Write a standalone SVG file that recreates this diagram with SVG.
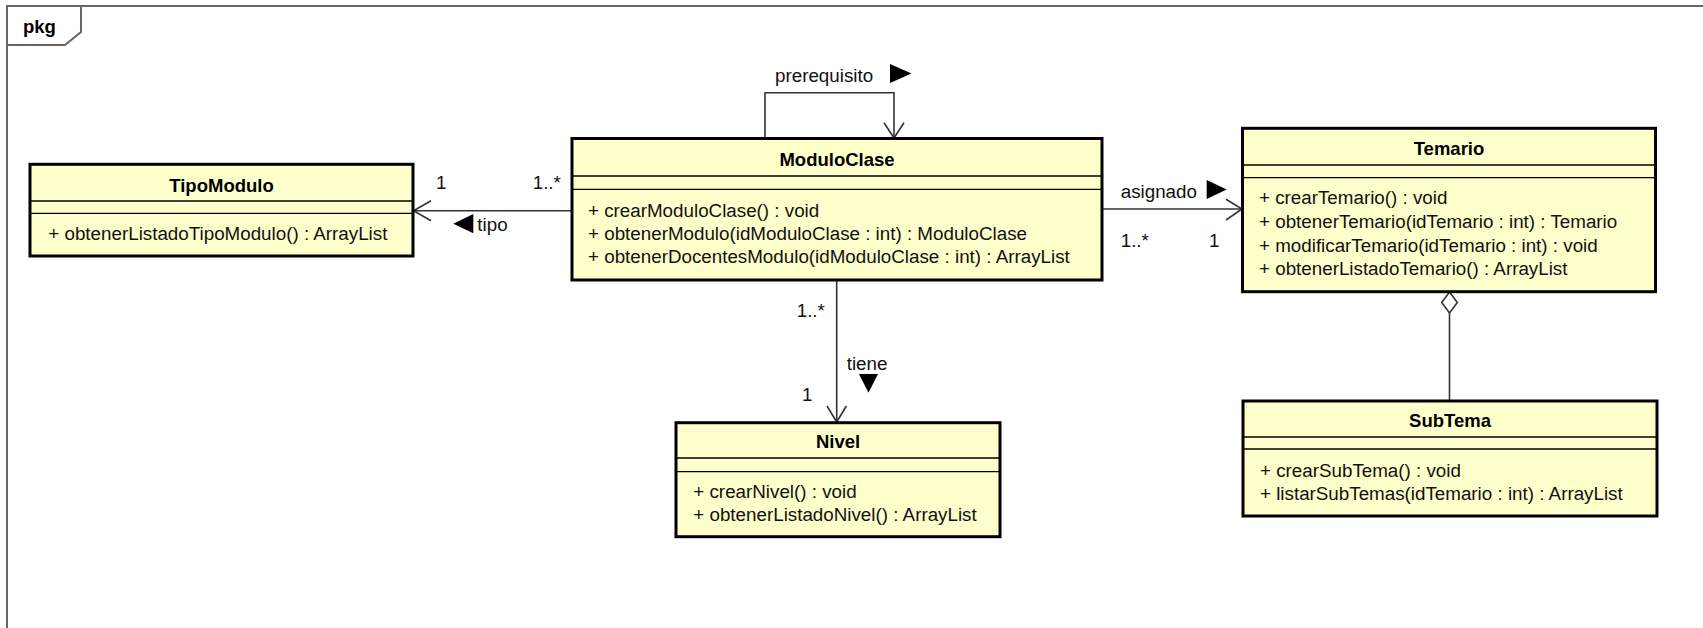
<svg xmlns="http://www.w3.org/2000/svg" width="1703" height="628" viewBox="0 0 1703 628">
<style>
.box{fill:#FFFFCC;stroke:#000;stroke-width:3}
.sep{stroke:#000;stroke-width:1.3}
.title{font-family:'Liberation Sans',Arial,sans-serif;font-size:18.5px;font-weight:bold;fill:#000;text-anchor:middle}
.m{font-family:'Liberation Sans',Arial,sans-serif;font-size:18.8px;fill:#111}
.lbl{font-family:'Liberation Sans',Arial,sans-serif;font-size:18.8px;fill:#111}
.ln{fill:none;stroke:#333;stroke-width:1.6}
.tri{fill:#000}
.frame{fill:none;stroke:#666;stroke-width:2}
</style>
<rect x="0" y="0" width="1703" height="628" fill="#fff"/>
<g id="frame">
<path class="frame" d="M7,628 V6 H1703"/>
<path class="frame" d="M7,45 H65 L81,32 V6"/>
<text x="23" y="33" font-family="'Liberation Sans',Arial,sans-serif" font-size="18.5" font-weight="bold" fill="#000">pkg</text>
</g>
<g id="connectors">
<g id="c-tipo">
<line class="ln" x1="572" y1="210.7" x2="413" y2="210.7"/>
<polyline class="ln" points="431,200.7 413.5,210.7 431,220.7"/>
<text class="lbl" x="436" y="189">1</text>
<text class="lbl" x="532.7" y="189">1..*</text>
<polygon class="tri" points="473.3,214 453.3,223.7 473.3,233.3"/>
<text class="lbl" x="477.3" y="231">tipo</text>
</g>
<g id="c-prerequisito">
<polyline class="ln" points="765,138 765,92.7 894,92.7 894,138"/>
<polyline class="ln" points="884,122.7 894,138 904,122.7"/>
<text class="lbl" x="775" y="81.7">prerequisito</text>
<polygon class="tri" points="890,64 911.5,73.5 890,83"/>
</g>
<g id="c-asignado">
<line class="ln" x1="1102" y1="209" x2="1242" y2="209"/>
<polyline class="ln" points="1226,199.3 1242,209 1226,220"/>
<text class="lbl" x="1120.7" y="198">asignado</text>
<polygon class="tri" points="1206.7,180 1226.7,189.5 1206.7,199"/>
<text class="lbl" x="1120.7" y="246.7">1..*</text>
<text class="lbl" x="1209" y="246.7">1</text>
</g>
<g id="c-tiene">
<line class="ln" x1="836.7" y1="280" x2="836.7" y2="422"/>
<polyline class="ln" points="827,406 836.7,422 846.4,406"/>
<text class="lbl" x="796.7" y="316.7">1..*</text>
<text class="lbl" x="846.7" y="370">tiene</text>
<polygon class="tri" points="859,374 878,374 868.5,392.7"/>
<text class="lbl" x="802" y="400.7">1</text>
</g>
<g id="c-aggregation">
<line class="ln" x1="1449.5" y1="313" x2="1449.5" y2="401"/>
<polygon points="1449.5,292 1457.3,302.5 1449.5,313 1441.7,302.5" fill="#fff" stroke="#333" stroke-width="1.6"/>
</g>
</g>
<g id="TipoModulo">
<rect class="box" x="30" y="164.3" width="383" height="91.7"/>
<line class="sep" x1="30" y1="201" x2="413" y2="201"/>
<line class="sep" x1="30" y1="213.3" x2="413" y2="213.3"/>
<text class="title" x="221.5" y="191.5">TipoModulo</text>
<text class="m" x="48.3" y="240">+ obtenerListadoTipoModulo() : ArrayList</text>
</g>
<g id="ModuloClase">
<rect class="box" x="572" y="138.5" width="530" height="141.5"/>
<line class="sep" x1="572" y1="176" x2="1102" y2="176"/>
<line class="sep" x1="572" y1="189.3" x2="1102" y2="189.3"/>
<text class="title" x="837" y="166">ModuloClase</text>
<text class="m" x="588" y="216.7">+ crearModuloClase() : void</text>
<text class="m" x="588" y="240">+ obtenerModulo(idModuloClase : int) : ModuloClase</text>
<text class="m" x="588" y="263.3">+ obtenerDocentesModulo(idModuloClase : int) : ArrayList</text>
</g>
<g id="Temario">
<rect class="box" x="1242.5" y="128.3" width="413" height="163.4"/>
<line class="sep" x1="1242.5" y1="165" x2="1655.5" y2="165"/>
<line class="sep" x1="1242.5" y1="177.7" x2="1655.5" y2="177.7"/>
<text class="title" x="1449" y="155">Temario</text>
<text class="m" x="1259" y="204.3">+ crearTemario() : void</text>
<text class="m" x="1259" y="228">+ obtenerTemario(idTemario : int) : Temario</text>
<text class="m" x="1259" y="251.7">+ modificarTemario(idTemario : int) : void</text>
<text class="m" x="1259" y="275">+ obtenerListadoTemario() : ArrayList</text>
</g>
<g id="Nivel">
<rect class="box" x="676" y="422.7" width="324" height="114"/>
<line class="sep" x1="676" y1="458" x2="1000" y2="458"/>
<line class="sep" x1="676" y1="471.7" x2="1000" y2="471.7"/>
<text class="title" x="838" y="448">Nivel</text>
<text class="m" x="693.3" y="498">+ crearNivel() : void</text>
<text class="m" x="693.3" y="520.7">+ obtenerListadoNivel() : ArrayList</text>
</g>
<g id="SubTema">
<rect class="box" x="1243" y="401" width="414" height="115"/>
<line class="sep" x1="1243" y1="437" x2="1657" y2="437"/>
<line class="sep" x1="1243" y1="449" x2="1657" y2="449"/>
<text class="title" x="1450" y="427">SubTema</text>
<text class="m" x="1260" y="477">+ crearSubTema() : void</text>
<text class="m" x="1260" y="500">+ listarSubTemas(idTemario : int) : ArrayList</text>
</g>
</svg>
